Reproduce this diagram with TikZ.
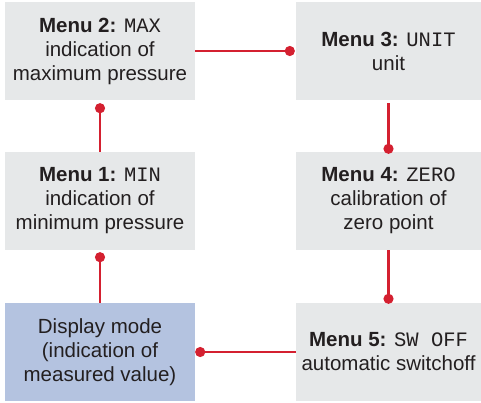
\documentclass[tikz,border=0pt]{standalone}
\usepackage{fontspec}
\setmainfont{Liberation Sans}
\setmonofont{Liberation Mono}
\usetikzlibrary{arrows.meta}
\definecolor{menugray}{HTML}{E6E8E9}
\definecolor{displayblue}{HTML}{B4C3E0}
\definecolor{linkred}{HTML}{D42030}
\definecolor{textdark}{HTML}{231F20}
\tikzset{
	menubox/.style={fill=menugray, inner sep=0pt, minimum height=98pt, align=center, text=textdark, font=\fontsize{20.5}{24}\selectfont},
	link/.style={draw=linkred, line width=2.5pt, -{Circle[length=10pt,width=10pt]}},
}
\newcommand{\menuhead}[2]{\textbf{Menu #1:} \texttt{#2}}

\begin{document}
\begin{tikzpicture}[x=1pt, y=-1pt]
			%%%%% START %%%%%
			
			\useasboundingbox (0, 0) rectangle (481, 402);
			
			\node[menubox, minimum width=190pt] (max) at (100, 51) {\menuhead{2}{MAX}\\indication of\\maximum pressure};
			\node[menubox, minimum width=185pt] (unit) at (388.5, 51) {\menuhead{3}{UNIT}\\unit};
			
			\node[menubox, minimum width=190pt] (min) at (100, 201) {\menuhead{1}{MIN}\\indication of\\minimum pressure};
			\node[menubox, minimum width=185pt] (zero) at (388.5, 201) {\menuhead{4}{ZERO}\\calibration of\\zero point};
			
			\node[menubox, minimum width=190pt, fill=displayblue] (display) at (100, 352) {Display mode\\(indication of\\measured value)};
			\node[menubox, minimum width=185pt] (swoff) at (388.5, 352) {\menuhead{5}{SW OFF}\\automatic switchoff};
			
			\draw[link] (display.north) -- ([yshift=-2pt]min.south);
			\draw[link] (min.north) -- ([yshift=-3pt]max.south);
			\draw[link] (max.east) -- ([xshift=-1pt]unit.west);
			\draw[link] ([yshift=-3pt]unit.south) -- ([yshift=-2pt]zero.north);
			\draw[link] (zero.south) -- ([yshift=-1pt]swoff.north);
			\draw[link] (swoff.west) -- (display.east);
			
			%%%%% END %%%%%
\end{tikzpicture}
\end{document}
